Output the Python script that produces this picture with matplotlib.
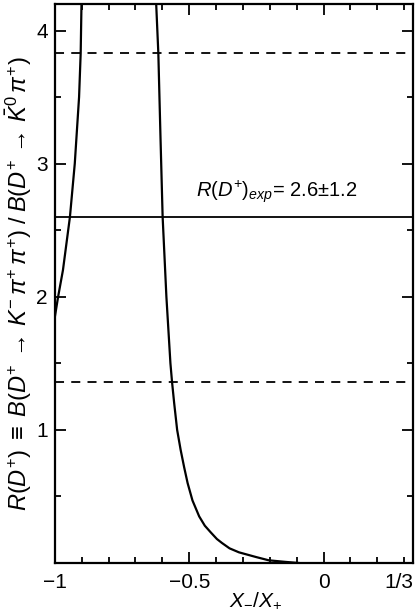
import numpy as np
import matplotlib as mpl
import matplotlib.pyplot as plt
from matplotlib.ticker import MultipleLocator

mpl.rcParams['font.family'] = ['Liberation Sans', 'DejaVu Sans']
mpl.rcParams['mathtext.fontset'] = 'custom'
mpl.rcParams['mathtext.it'] = 'Liberation Sans:italic'
mpl.rcParams['mathtext.rm'] = 'Liberation Sans'
mpl.rcParams['mathtext.sf'] = 'Liberation Sans'

# left branch (rises to infinity near x = -0.9)
left_x = [-1.0, -0.988, -0.970, -0.944, -0.926, -0.910, -0.904, -0.901]
left_y = [1.85, 2.0, 2.2, 2.6, 3.0, 3.5, 3.83, 4.2]

# right branch (falls from infinity near x = -0.62 to zero)
right_x = [-0.623, -0.615, -0.607, -0.599, -0.585, -0.570, -0.564, -0.556,
           -0.545, -0.532, -0.519, -0.506, -0.488, -0.463, -0.442, -0.420,
           -0.397, -0.378, -0.350, -0.315, -0.252, -0.204, -0.141, -0.093]
right_y = [4.2, 3.83, 3.2, 2.6, 2.0, 1.5, 1.36, 1.2,
           1.0, 0.85, 0.72, 0.6, 0.47, 0.35, 0.28, 0.23,
           0.18, 0.15, 0.11, 0.08, 0.045, 0.02, 0.008, 0.0]

# measured value and its band as drawn
r_exp = 2.6
band_hi = 3.83
band_lo = 1.36

xticks = [-1, -0.5, 0, 1 / 3]
xticklabels = ['\u22121', '\u22120.5', '0', '1/3']
yticks = [1, 2, 3, 4]

fig = plt.figure(figsize=(4.19, 6.11), dpi=100)
ax = fig.add_axes([0.131, 0.0786, 0.855, 0.915])

ax.plot(left_x, left_y, color='black', lw=1.6)
ax.plot(right_x, right_y, color='black', lw=1.6)

ax.axhline(r_exp, color='black', lw=1.3)
ax.axhline(band_hi, color='black', lw=1.3, ls=(0, (5, 4)))
ax.axhline(band_lo, color='black', lw=1.3, ls=(0, (5, 4)))

ax.text(-0.475, r_exp + 0.09, r'$R(D^{+})_{exp}$' + '= ' + r'$2.6{\pm}1.2$',
        fontsize=14.5, ha='left', va='bottom')

ax.set_xlim(-1, 1 / 3)
ax.set_ylim(0, 4.2)
ax.set_xticks(xticks)
ax.set_xticklabels(xticklabels)
ax.set_yticks(yticks)
ax.xaxis.set_minor_locator(MultipleLocator(0.1))
ax.yaxis.set_minor_locator(MultipleLocator(0.5))
ax.tick_params(which='both', direction='in', top=True, right=True,
               labelsize=15, width=1.3)
ax.tick_params(which='major', length=8)
ax.tick_params(which='minor', length=4)
ax.tick_params(axis='x', pad=7)
ax.tick_params(axis='y', pad=5)
ax.get_xticklabels()[-1].set_horizontalalignment('right')
ax.get_xticklabels()[-1].set_x(1 / 3 + 0.02)
for s in ax.spines.values():
    s.set_linewidth(1.6)

ax.set_ylabel(r'$R(D^{+})\;\equiv\;B(D^{+}\,\rightarrow\,K^{-}\,\pi^{+}\,\pi^{+})'
              r'\;/\;B(D^{+}\,\rightarrow\,\bar{K}^{0}\,\pi^{+})$',
              fontsize=17, labelpad=2)
ax.set_xlabel(r'$X_{-}/X_{+}$', fontsize=15, labelpad=0)
ax.xaxis.set_label_coords(0.56, -0.05)

fig.savefig('out.png', dpi=100)
